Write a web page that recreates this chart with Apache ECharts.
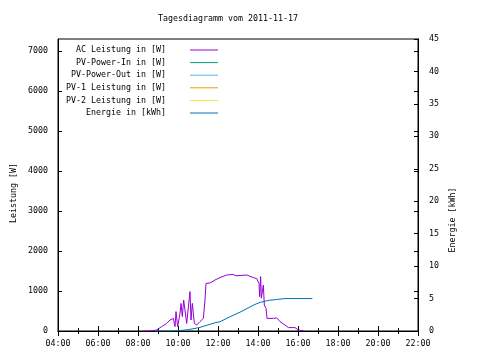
<!DOCTYPE html>
<html><head><meta charset="utf-8">
<script src="https://cdn.jsdelivr.net/npm/echarts@6/dist/echarts.min.js"></script>
<style>html,body{margin:0;padding:0;background:#fff}#c{width:480px;height:360px}</style>
</head><body><div id="c"></div>
<script>
var title = 'Tagesdiagramm vom 2011-11-17';
var seriesNames = ['AC Leistung in [W]', 'PV-Power-In in [W]', 'PV-Power-Out in [W]', 'PV-1 Leistung in [W]', 'PV-2 Leistung in [W]', 'Energie in [kWh]'];
var xTicks = ['04:00','06:00','08:00','10:00','12:00','14:00','16:00','18:00','20:00','22:00'];
var acTimes = ['08:16','08:36','08:56','09:11','09:26','09:36','09:46','09:51','09:54','09:59','10:06','10:09','10:13','10:17','10:21','10:26','10:30','10:36','10:39','10:43','10:49','10:56','11:06','11:16','11:21','11:24','11:36','11:51','12:06','12:26','12:46','12:54','12:57','13:00','13:26','13:46','13:56','14:00','14:03','14:05','14:08','14:10','14:16','14:19','14:24','14:27','14:46','14:56','15:06','15:21','15:31','15:51','16:01','16:19'];
var acValues = [0,0,25,110,190,275,315,110,485,110,440,690,360,775,750,190,230,985,275,690,190,150,235,315,775,1190,1200,1275,1335,1400,1415,1380,1330,1400,1400,1335,1310,1320,1190,860,1360,820,1150,650,565,315,315,330,235,150,85,85,25,0];
var enTimes = ['08:51','09:40','10:01','10:30','10:51','11:06','11:51','12:06','12:36','13:06','13:36','13:51','14:06','14:26','14:36','14:56','15:21','16:43'];
var enValues = [0,0,0.05,0.2,0.4,0.56,1.27,1.43,2.2,2.9,3.7,4.1,4.4,4.65,4.75,4.85,5.0,5.0];
var colors = ['#9400D3','#009E73','#56B4E9','#E69F00','#F0E442','#0072B2'];

function toH(t){var p=t.split(':');return +p[0]+ (+p[1])/60;}
function fmt(v){var h=Math.round(v);return (h<10?'0':'')+h+':00';}
function plain(v){return String(v);}
function pairs(ts,vs){return ts.map(function(t,i){return [toH(t),vs[i]];});}

var FONT = 'DejaVu Sans Mono';
var FS = 8.3;
var chart = echarts.init(document.getElementById('c'), null, {renderer:'canvas'});
var series = seriesNames.map(function(n,i){
  var d = [];
  if(i===0) d = pairs(acTimes, acValues);
  if(i===5) d = pairs(enTimes, enValues);
  return {name:n, type:'line', data:d, yAxisIndex: i===5?1:0, showSymbol:false, symbol:'none',
    lineStyle:{width:1,color:colors[i]}, itemStyle:{color:colors[i]}, animation:false};
});
var axisLine = {lineStyle:{color:'#000',width:1}};
chart.setOption({
  animation:false,
  textStyle:{fontFamily:FONT},
  title:{text:title, left:223, top:10, textAlign:'center',
    textStyle:{fontFamily:FONT,fontSize:FS,fontWeight:'normal',color:'#000'}},
  grid:{left:58,right:62,top:39,bottom:29,show:true,borderColor:'#000',borderWidth:1,backgroundColor:'transparent'},
  legend:{orient:'vertical',left:58,top:40,itemWidth:28,itemHeight:1,itemGap:2.6,icon:'rect',align:'right',
    data:seriesNames.map(function(n,i){return {name:n,itemStyle:{color:colors[i]}};}),
    formatter:function(n){return '{a|'+n+'}{b| }';},
    textStyle:{fontFamily:FONT,fontSize:FS,color:'#000',lineHeight:10,
      rich:{a:{width:103,align:'right',fontFamily:FONT,fontSize:FS,color:'#000',lineHeight:10},b:{width:19,fontSize:FS,lineHeight:10}}},
    selectedMode:false},
  xAxis:[{type:'value',min:4,max:22,interval:2,position:'bottom',
    axisLine:axisLine, axisTick:{inside:true,length:5,lineStyle:{color:'#000'}},
    minorTick:{show:true,splitNumber:2,length:3,lineStyle:{color:'#000'}},
    splitLine:{show:false},
    axisLabel:{formatter:fmt,fontFamily:FONT,fontSize:FS,color:'#000',margin:9}},
    {type:'value',min:4,max:22,interval:2,position:'top',
    axisLine:axisLine, axisTick:{inside:true,length:5,lineStyle:{color:'#000'}},
    minorTick:{show:true,splitNumber:2,length:3,lineStyle:{color:'#000'}},
    splitLine:{show:false},axisLabel:{show:false}}],
  yAxis:[{type:'value',min:0,max:7300,interval:1000,position:'left',
    axisLine:axisLine,axisTick:{inside:true,length:4,lineStyle:{color:'#000'}},
    splitLine:{show:false},
    axisLabel:{formatter:plain,showMaxLabel:false,fontFamily:FONT,fontSize:FS,color:'#000',margin:10}},
    {type:'value',min:0,max:45,interval:5,position:'right',
    axisLine:axisLine,axisTick:{inside:true,length:4,lineStyle:{color:'#000'}},
    splitLine:{show:false},
    axisLabel:{formatter:plain,fontFamily:FONT,fontSize:FS,color:'#000',margin:11}},
    {type:'value',min:0,max:7300,interval:1000,position:'right',offset:0,
    axisLine:axisLine,axisTick:{inside:true,length:4,lineStyle:{color:'#000'}},
    splitLine:{show:false},axisLabel:{show:false}}],
  graphic:[
    {type:'text',x:14,y:193,rotation:Math.PI/2,
      style:{text:'Leistung [W]',font:FS+'px '+FONT,fill:'#000',textAlign:'center',textVerticalAlign:'middle'}},
    {type:'text',x:453,y:220,rotation:Math.PI/2,
      style:{text:'Energie [kWh]',font:FS+'px '+FONT,fill:'#000',textAlign:'center',textVerticalAlign:'middle'}}
  ],
  series:series
});
</script></body></html>
